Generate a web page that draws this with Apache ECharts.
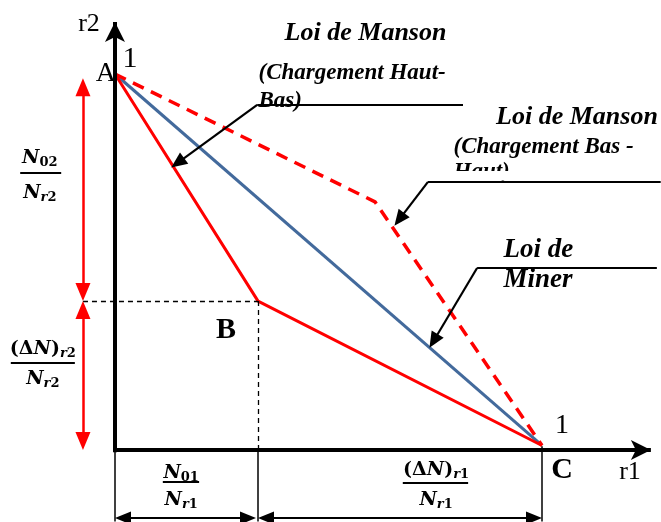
<!DOCTYPE html>
<html>
<head>
<meta charset="utf-8">
<script src="https://cdn.jsdelivr.net/npm/echarts@6/dist/echarts.min.js"></script>
<style>
  html, body { margin: 0; background: #fff; }
  #chart { width: 661px; height: 522px; }
</style>
</head>
<body>
<div id="chart"></div>
<script>
// damage fractions: r1 on x, r2 on y
const minerR1 = [0, 1];
const minerR2 = [1, 0.012];
const hautBasR1 = [0, 0.335, 1];
const hautBasR2 = [1, 0.396, 0.012];
const basHautR1 = [0, 0.609, 1];
const basHautR2 = [1, 0.66, 0.012];

const pointB = [hautBasR1[1], hautBasR2[1]];
const pointNames = ['A', 'B', 'C'];
const axisNames = ['r1', 'r2'];
const calloutTexts = [
  ['Loi de Manson', '(Chargement Haut-', 'Bas)'],
  ['Loi de Manson', '(Chargement Bas -', 'Haut)'],
  ['Loi de', 'Miner']
];

const SERIF = 'Liberation Serif';
const MATH = 'DejaVu Serif';
const RED = '#ff0000';
const BLUE = '#436a9c';

const zip = (xs, ys) => xs.map((x, i) => [x, ys[i]]);

const chart = echarts.init(document.getElementById('chart'));

// one segment for markLine
function seg(from, to, lineStyle, sym, size) {
  sym = sym || ['none', 'none'];
  return [
    { coord: from, symbol: sym[0], symbolSize: size, lineStyle: lineStyle },
    { coord: to, symbol: sym[1], symbolSize: size }
  ];
}

const axisStyle = { color: '#000', width: 4, type: 'solid' };
const thin = { color: '#000', width: 1.5, type: 'solid' };
const dashed = { color: '#000', width: 1.3, type: [5, 4] };
const redDim = { color: RED, width: 2.5, type: 'solid' };
const callout = { color: '#000', width: 2.2, type: 'solid' };
const bar = { color: '#000', width: 2, type: 'solid' };

const axisLines = [
  seg([-0.004, 0], [1.255, 0], axisStyle, ['none', 'arrow'], [15, 20]),
  seg([0, -0.006], [0, 1.138], axisStyle, ['none', 'arrow'], [15, 20])
];

const guideLines = [
  seg([-0.075, pointB[1]], pointB, dashed),
  seg(pointB, [pointB[0], 0], dashed),
  seg([0, 0], [0, -0.19], thin),
  seg([pointB[0], 0], [pointB[0], -0.19], thin),
  seg([1, 0.01], [1, -0.19], thin),
  // dimension arrows
  seg([-0.075, 0.965], [-0.075, 0.42], redDim, ['triangle', 'triangle'], [15, 18]),
  seg([-0.075, 0.372], [-0.075, 0.024], redDim, ['triangle', 'triangle'], [15, 18]),
  seg([0.0187, -0.181], [0.3115, -0.181], callout, ['triangle', 'triangle'], [13, 16]),
  seg([0.3536, -0.181], [0.9813, -0.181], callout, ['triangle', 'triangle'], [13, 16]),
  // fraction bars
  seg([-0.222, 0.737], [-0.126, 0.737], bar),
  seg([-0.244, 0.231], [-0.094, 0.231], bar),
  seg([0.112, -0.085], [0.197, -0.085], bar),
  seg([0.674, -0.088], [0.827, -0.088], bar)
];

const calloutLines = [
  seg([0.815, 0.918], [0.333, 0.918], callout),
  seg([0.333, 0.918], [0.1468, 0.7636], callout, ['none', 'triangle'], [14, 16]),
  seg([1.278, 0.713], [0.733, 0.713], callout),
  seg([0.733, 0.713], [0.6658, 0.6133], callout, ['none', 'triangle'], [14, 16]),
  seg([1.269, 0.484], [0.848, 0.484], callout),
  seg([0.848, 0.484], [0.7461, 0.2899], callout, ['none', 'triangle'], [14, 16])
];

function markHost(name, lines, z) {
  return {
    name: name, type: 'line', data: [], clip: false, z: z, silent: true,
    markLine: { silent: true, animation: false, label: { show: false }, data: lines }
  };
}

const mathRich = {
  n: { fontFamily: MATH, fontWeight: 'bold', fontStyle: 'italic', fontSize: 19, lineHeight: 22, color: '#000' },
  u: { fontFamily: MATH, fontWeight: 'bold', fontSize: 19, lineHeight: 22, color: '#000' },
  s: { fontFamily: MATH, fontWeight: 'bold', fontSize: 13, lineHeight: 16, verticalAlign: 'bottom', color: '#000' },
  si: { fontFamily: MATH, fontWeight: 'bold', fontStyle: 'italic', fontSize: 13, lineHeight: 16, verticalAlign: 'bottom', color: '#000' }
};

function txt(pos, text, font, anchor) {
  return {
    value: pos,
    label: Object.assign({
      show: true,
      position: anchor === 'left' ? 'right' : 'inside',
      distance: 0,
      formatter: text,
      color: '#000',
      opacity: 1,
      rich: mathRich
    }, font)
  };
}

const titleFont = { fontFamily: SERIF, fontWeight: 'bold', fontStyle: 'italic', fontSize: 26 };
const subFont = { fontFamily: SERIF, fontWeight: 'bold', fontStyle: 'italic', fontSize: 23 };
const minerFont = { fontFamily: SERIF, fontWeight: 'bold', fontStyle: 'italic', fontSize: 27 };
const plainFont = { fontFamily: SERIF, fontSize: 26 };
const boldFont = { fontFamily: SERIF, fontWeight: 'bold', fontSize: 30 };

const labels = [
  txt([-0.0609, 1.133], axisNames[1], plainFont),
  txt([1.2061, -0.0585], axisNames[0], plainFont),
  txt([0.0351, 1.040], '1', { fontFamily: SERIF, fontSize: 30 }),
  txt([1.0468, 0.0638], '1', { fontFamily: SERIF, fontSize: 28 }),
  txt([-0.0211, 1.0], pointNames[0], { fontFamily: SERIF, fontSize: 28 }),
  txt([0.26, 0.3191], pointNames[1], boldFont),
  txt([1.0468, -0.0532], pointNames[2], boldFont),

  txt([0.5867, 1.109], calloutTexts[0][0], titleFont),
  txt([0.3349, 1.0027], calloutTexts[0][1], subFont, 'left'),
  txt([0.3349, 0.9282], calloutTexts[0][2], subFont, 'left'),
  txt([1.082, 0.8856], calloutTexts[1][0], titleFont),
  txt([0.7916, 0.8059], calloutTexts[1][1], subFont, 'left'),
  txt([0.7916, 0.738], calloutTexts[1][2], subFont, 'left'),
  txt([0.9087, 0.5319], calloutTexts[2][0], minerFont, 'left'),
  txt([0.9087, 0.4521], calloutTexts[2][1], minerFont, 'left'),

  txt([-0.176, 0.777], '{n|N}{s|02}', {}),
  txt([-0.176, 0.684], '{n|N}{si|r}{s|2}', {}),
  txt([-0.169, 0.269], '{u|(Δ}{n|N}{u|)}{si|r}{s|2}', {}),
  txt([-0.169, 0.189], '{n|N}{si|r}{s|2}', {}),
  txt([0.155, -0.061], '{n|N}{s|01}', {}),
  txt([0.155, -0.133], '{n|N}{si|r}{s|1}', {}),
  txt([0.752, -0.053], '{u|(Δ}{n|N}{u|)}{si|r}{s|1}', {}),
  txt([0.752, -0.133], '{n|N}{si|r}{s|1}', {})
];

chart.setOption({
  animation: false,
  backgroundColor: '#fff',
  grid: { left: 0, right: 0, top: 0, bottom: 0 },
  xAxis: { type: 'value', min: -0.2693, max: 1.2787, show: false },
  yAxis: { type: 'value', min: -0.1915, max: 1.1968, show: false },
  graphic: [
    // the original cuts the last line of this caption
    { type: 'rect', z: 100, shape: { x: 448, y: 171, width: 100, height: 9.5 }, style: { fill: '#fff' } }
  ],
  series: [
    markHost('axes', axisLines, 1),
    {
      name: 'Loi de Miner', type: 'line', data: zip(minerR1, minerR2), z: 3,
      symbol: 'none', clip: false, lineStyle: { color: BLUE, width: 3 }
    },
    {
      name: 'Manson Haut-Bas', type: 'line', data: zip(hautBasR1, hautBasR2), z: 3,
      symbol: 'none', clip: false, lineStyle: { color: RED, width: 3 }
    },
    {
      name: 'Manson Bas-Haut', type: 'line', data: zip(basHautR1, basHautR2), z: 3,
      symbol: 'none', clip: false, lineStyle: { color: RED, width: 3.5, type: [12, 8] }
    },
    markHost('guides', guideLines, 2),
    markHost('callouts', calloutLines, 4),
    {
      name: 'labels', type: 'scatter', data: labels, z: 5, clip: false, silent: true,
      symbol: 'circle', symbolSize: 1, itemStyle: { color: 'rgba(0,0,0,0)', opacity: 1 }
    }
  ]
});
</script>
</body>
</html>
